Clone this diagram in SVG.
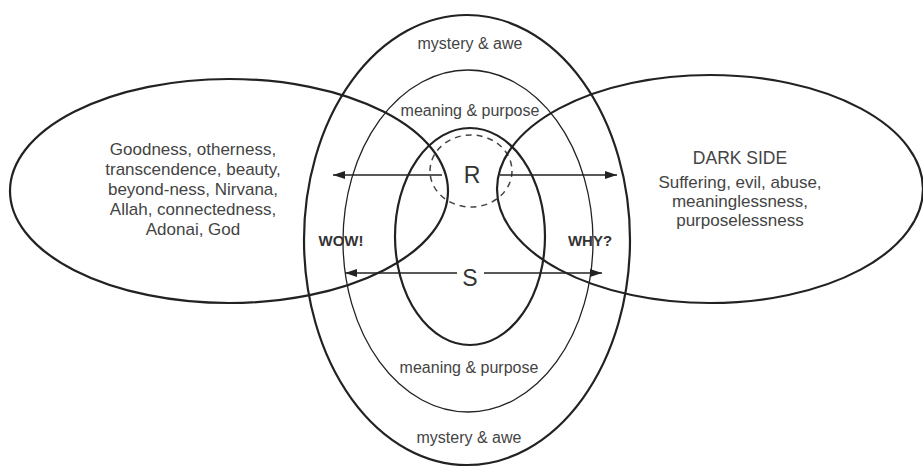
<svg xmlns="http://www.w3.org/2000/svg" width="923" height="467" viewBox="0 0 923 467">
<style>
.line{fill:none;stroke:#222;}
.thick{stroke-width:2.2;}
.thin{stroke-width:1.3;}
.dash{stroke-width:1.5;stroke-dasharray:6 5;stroke:#444;}
.t{font-family:"Liberation Sans",Arial,sans-serif;fill:#444;text-anchor:middle;}
.big{font-size:17px;}
.head{font-size:17.5px;}
.ring{font-size:16px;}
.letter{font-size:23px;fill:#333;}
.bold{font-size:15px;font-weight:bold;fill:#333;}
.arrow{stroke:#222;stroke-width:1.6;fill:none;marker-end:url(#ah);}
</style>
<defs>
<marker id="ah" markerUnits="userSpaceOnUse" viewBox="0 0 12 8" markerWidth="12" markerHeight="8" refX="12" refY="4" orient="auto">
<path d="M0,0 L12,4 L0,8 z" fill="#222"/>
</marker>
</defs>
<rect width="923" height="467" fill="#fff"/>
<g id="outer-mystery">
<ellipse class="line thick" cx="467" cy="240" rx="163" ry="225"/>
<text class="t ring" x="470" y="49">mystery &amp; awe</text>
<text class="t ring" x="469" y="443">mystery &amp; awe</text>
</g>
<g id="middle-meaning">
<ellipse class="line thin" cx="468" cy="241" rx="125" ry="171"/>
<text class="t ring" x="470" y="116">meaning &amp; purpose</text>
<text class="t ring" x="469" y="373">meaning &amp; purpose</text>
</g>
<g id="inner-S">
<ellipse class="line thick" cx="470" cy="236.5" rx="75" ry="108.5"/>
<text class="t letter" x="470" y="286">S</text>
</g>
<g id="R">
<ellipse class="line dash" cx="471" cy="171" rx="41" ry="36"/>
<text class="t letter" x="472" y="183">R</text>
</g>
<g id="left-wow">
<ellipse class="line thick" cx="229" cy="191" rx="219" ry="112"/>
<text class="t big" x="193" y="155">Goodness, otherness,</text>
<text class="t big" x="193" y="175">transcendence, beauty,</text>
<text class="t big" x="193" y="195">beyond-ness, Nirvana,</text>
<text class="t big" x="193" y="215">Allah, connectedness,</text>
<text class="t big" x="193" y="235">Adonai, God</text>
<text class="t bold" x="341" y="246">WOW!</text>
</g>
<g id="right-why">
<ellipse class="line thick" cx="710" cy="189" rx="213" ry="114"/>
<text class="t head" x="740" y="164">DARK SIDE</text>
<text class="t big" x="740" y="188">Suffering, evil, abuse,</text>
<text class="t big" x="740" y="207">meaninglessness,</text>
<text class="t big" x="740" y="226">purposelessness</text>
<text class="t bold" x="590" y="246">WHY?</text>
</g>
<g id="connectors">
<line class="arrow" x1="442" y1="175" x2="333" y2="175"/>
<line class="arrow" x1="500" y1="175" x2="617" y2="175"/>
<line class="arrow" x1="457" y1="273" x2="345" y2="273"/>
<line class="arrow" x1="484" y1="273" x2="602" y2="273"/>
</g>
</svg>
